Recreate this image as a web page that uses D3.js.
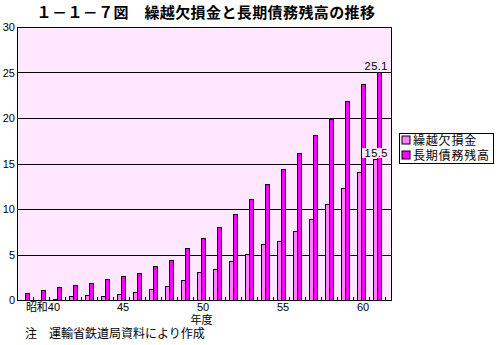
<!DOCTYPE html>
<html>
<head>
<meta charset="utf-8">
<script src="https://cdn.jsdelivr.net/npm/d3@7"></script>
<style>
  html, body { margin: 0; padding: 0; background: #ffffff; }
  svg { display: block; }
  text { font-family: "Noto Sans CJK JP", "Liberation Sans", sans-serif; fill: #000; }
  .num { font-family: "Liberation Sans", "Noto Sans CJK JP", sans-serif; }
</style>
</head>
<body>
<svg id="chart" width="501" height="345"></svg>
<script>
// 昭和39〜61年度（兆円）
const years = [39, 40, 41, 42, 43, 44, 45, 46, 47, 48, 49, 50, 51, 52, 53, 54, 55, 56, 57, 58, 59, 60, 61];
const deficit = [0, 0, 0.1, 0.4, 0.5, 0.4, 0.7, 0.9, 1.2, 1.5, 2.2, 3.1, 3.4, 4.3, 5.1, 6.1, 6.5, 7.6, 8.9, 10.6, 12.3, 14.1, 15.5];
const debt = [0.8, 1.1, 1.4, 1.7, 1.9, 2.3, 2.6, 3.0, 3.7, 4.4, 5.7, 6.8, 8.0, 9.4, 11.1, 12.8, 14.4, 16.1, 18.1, 19.9, 21.9, 23.7, 25.1];
const seriesNames = ["繰越欠損金", "長期債務残高"];
const seriesColors = ["#ff80ff", "#ff00ff"];
const yTicks = [0, 5, 10, 15, 20, 25, 30];
const xLabels = [[40, "昭和40"], [45, "45"], [50, "50"], [55, "55"], [60, "60"]];
const labelled = [[1, 61, 25.1], [0, 61, 15.5]];

const svg = d3.select("#chart");
const plot = { left: 17, top: 27, right: 391, bottom: 300 };

const x = d3.scaleBand().domain(years).range([plot.left, plot.left + 16 * years.length]).padding(0);
const xs = d3.scaleBand().domain([0, 1]).range([4.5, 12.5]).padding(0);
const y = d3.scaleLinear().domain([0, 30]).range([plot.bottom, plot.top]);

// title
svg.append("text")
  .attr("x", 206).attr("y", 18)
  .attr("text-anchor", "middle")
  .style("font-size", "15px").style("font-weight", "bold")
  .style("letter-spacing", "0.4px")
  .text("１－１－７図　繰越欠損金と長期債務残高の推移");

// plot background
svg.append("rect")
  .attr("x", plot.left + 0.5).attr("y", plot.top + 0.5)
  .attr("width", plot.right - plot.left).attr("height", plot.bottom - plot.top)
  .attr("fill", "#ffe8ff");

// gridlines and y tick labels
const yAxis = d3.axisLeft(y).tickValues(yTicks).tickSize(0).tickPadding(3);
const gy = svg.append("g").attr("transform", `translate(${plot.left},0)`).call(yAxis);
gy.select(".domain").remove();
gy.selectAll("text").attr("class", "num").style("font-size", "11px").attr("dy", "0.35em").attr("x", -2);

svg.append("g").selectAll("line")
  .data(yTicks.filter(t => t > 0 && t < 30))
  .join("line")
  .attr("x1", plot.left).attr("x2", plot.right)
  .attr("y1", d => Math.round(y(d)) + 0.5).attr("y2", d => Math.round(y(d)) + 0.5)
  .attr("stroke", "#000").attr("stroke-width", 1);

// bars
const series = [deficit, debt];
series.forEach((vals, si) => {
  svg.append("g").selectAll("rect")
    .data(years.map((yr, i) => ({ yr, v: vals[i] })).filter(d => d.v > 0))
    .join("rect")
    .attr("x", d => x(d.yr) + xs(si))
    .attr("y", d => Math.round(y(d.v)) + 0.5)
    .attr("width", xs.bandwidth())
    .attr("height", d => plot.bottom - Math.round(y(d.v)))
    .attr("fill", seriesColors[si])
    .attr("stroke", "#000").attr("stroke-width", 1);
});

// minor ticks between years
svg.append("g").selectAll("line")
  .data(years)
  .join("line")
  .attr("x1", d => x(d) + 16.5).attr("x2", d => x(d) + 16.5)
  .attr("y1", plot.bottom).attr("y2", plot.bottom - 3)
  .attr("stroke", "#000");

// plot frame
svg.append("rect")
  .attr("x", plot.left + 0.5).attr("y", plot.top + 0.5)
  .attr("width", plot.right - plot.left).attr("height", plot.bottom - plot.top)
  .attr("fill", "none").attr("stroke", "#000").attr("stroke-width", 1);

// x labels
svg.append("g").selectAll("text")
  .data(xLabels)
  .join("text")
  .attr("class", "num")
  .attr("x", d => x(d[0]) + xs(1) + 1.5)
  .attr("y", 311)
  .attr("text-anchor", "middle")
  .style("font-size", "11px")
  .text(d => d[1]);

svg.append("text")
  .attr("x", 201.5).attr("y", 324)
  .attr("text-anchor", "middle")
  .style("font-size", "11px")
  .text("年度");

svg.append("text")
  .attr("x", 25).attr("y", 338)
  .style("font-size", "12px")
  .text("注　運輸省鉄道局資料により作成");

// value labels
labelled.forEach(([si, yr, v]) => {
  const val = series[si][years.indexOf(yr)];
  const ty = Math.round(y(val)) - 2;
  if (si === 0) {
    svg.append("rect")
      .attr("x", 362).attr("y", ty - 9)
      .attr("width", 27).attr("height", 10)
      .attr("fill", "#ffe8ff");
  }
  svg.append("text")
    .attr("class", "num")
    .attr("x", 388).attr("y", ty)
    .attr("text-anchor", "end")
    .style("font-size", "11px")
    .style("letter-spacing", "0.5px")
    .text(val.toFixed(1));
});

// legend
const lg = svg.append("g").attr("transform", "translate(399.5,133.5)");
lg.append("rect").attr("width", 94).attr("height", 30)
  .attr("fill", "#fff").attr("stroke", "#000");
seriesNames.forEach((name, i) => {
  lg.append("rect")
    .attr("x", 2.5).attr("y", 2.5 + i * 15)
    .attr("width", 8).attr("height", 8)
    .attr("fill", seriesColors[i]).attr("stroke", "#000");
  lg.append("text")
    .attr("x", 13.5).attr("y", 11 + i * 15)
    .style("font-size", "12px")
    .style("letter-spacing", "0.8px")
    .text(name);
});
</script>
</body>
</html>
